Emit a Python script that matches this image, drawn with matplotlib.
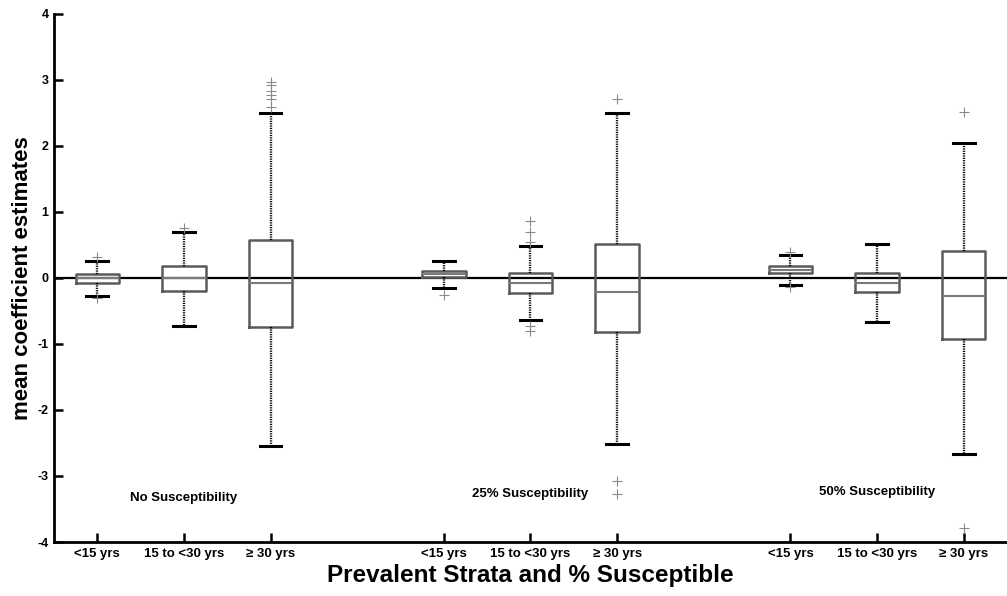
import matplotlib
matplotlib.use("Agg")
import matplotlib.pyplot as plt

plt.rcParams["font.family"] = ["Liberation Sans", "DejaVu Sans"]
plt.rcParams["font.weight"] = "bold"
plt.rcParams["axes.unicode_minus"] = False

positions = [1, 2, 3, 5, 6, 7, 9, 10, 11]
tick_labels = ["<15 yrs", "15 to <30 yrs", "\u2265 30 yrs"] * 3
group_names = ["No Susceptibility", "25% Susceptibility", "50% Susceptibility"]
group_centers = [2, 6, 10]
group_label_y = [-3.33, -3.27, -3.24]

# box stats
q1 = [-0.07, -0.20, -0.74, 0.01, -0.23, -0.82, 0.07, -0.22, -0.93]
med = [0.0, 0.0, -0.076, 0.06, -0.08, -0.21, 0.12, -0.07, -0.27]
q3 = [0.065, 0.18, 0.58, 0.11, 0.075, 0.52, 0.18, 0.08, 0.41]
whislo = [-0.27, -0.73, -2.54, -0.15, -0.63, -2.52, -0.10, -0.66, -2.66]
whishi = [0.25, 0.69, 2.50, 0.25, 0.49, 2.50, 0.35, 0.52, 2.05]
fliers = [
    [0.32, -0.31],
    [0.76],
    [2.97, 2.93, 2.84, 2.77, 2.71, 2.59],
    [-0.26],
    [0.55, 0.69, 0.87, -0.73, -0.80],
    [2.71, -3.07, -3.27],
    [0.40, -0.14],
    [],
    [2.52, -3.79],
]

stats = []
for i in range(len(positions)):
    stats.append(dict(q1=q1[i], med=med[i], q3=q3[i], whislo=whislo[i],
                      whishi=whishi[i], fliers=fliers[i]))

fig = plt.figure(figsize=(10.07, 5.96), dpi=100)
ax = fig.add_axes([0.0536, 0.0906, 0.9464, 0.886])

ax.axhline(0, color="black", lw=1.6, zorder=1)

ax.bxp(stats, positions=positions, widths=0.5, showfliers=True,
       boxprops=dict(color="#5a5a5a", lw=1.8),
       medianprops=dict(color="#7a7a7a", lw=1.5),
       whiskerprops=dict(color="black", lw=1.7, linestyle=(0, (0.5, 0.5))),
       capprops=dict(color="black", lw=2.2),
       capwidths=0.25,
       flierprops=dict(marker="+", markeredgecolor="#8a8a8a", markersize=7,
                       markeredgewidth=0.8, linestyle="none"))

for name, cx, cy in zip(group_names, group_centers, group_label_y):
    ax.text(cx, cy, name, ha="center", va="center", fontsize=9.5, fontweight="bold")

ax.set_xlim(0.5, 11.5)
ax.set_ylim(-4, 4)
ax.set_xticks(positions)
ax.set_xticklabels(tick_labels, fontsize=9.5, fontweight="bold")
ax.set_yticks([-4, -3, -2, -1, 0, 1, 2, 3, 4])
ax.set_yticklabels(["-4", "-3", "-2", "-1", "0", "1", "2", "3", "4"],
                   fontsize=9, fontweight="bold")
ax.tick_params(direction="in", length=6.5, width=1.8, pad=4)

ax.spines["top"].set_visible(False)
ax.spines["right"].set_visible(False)
ax.spines["left"].set_linewidth(2)
ax.spines["bottom"].set_linewidth(2)

ax.set_xlabel("Prevalent Strata and % Susceptible", fontsize=17.5, fontweight="bold")
ax.set_ylabel("mean coefficient estimates", fontsize=16, fontweight="bold")
ax.xaxis.set_label_coords(0.5, -0.042)
ax.yaxis.set_label_coords(-0.022, 0.5)

fig.savefig("out.png", dpi=100)
